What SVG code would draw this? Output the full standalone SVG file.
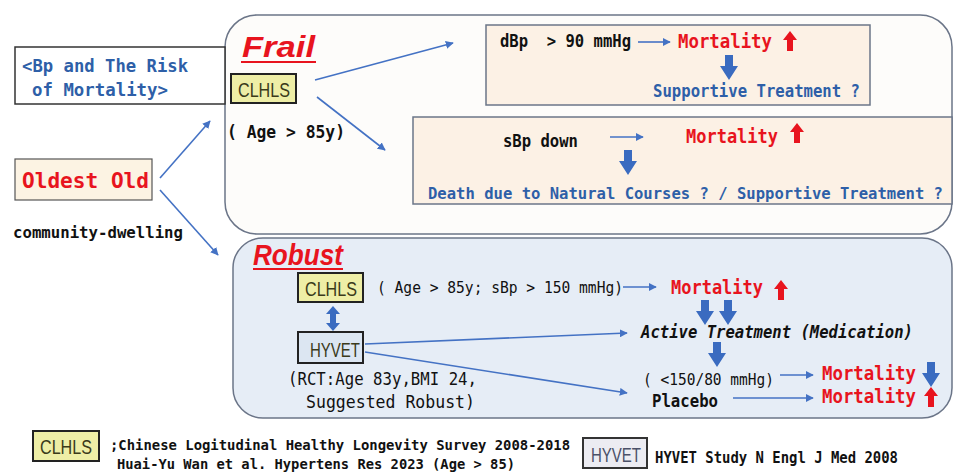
<svg xmlns="http://www.w3.org/2000/svg" xmlns:xlink="http://www.w3.org/1999/xlink" width="954" height="472" viewBox="0 0 954 472">
<style>
text{font-family:"DejaVu Sans Mono","Liberation Mono",monospace;font-weight:bold;font-size:17px;}
.blk{fill:#111;}
.reg{font-weight:normal;}
.blue{fill:#2e5fa8;}
.red{fill:#e8141e;}
.narrow{font-family:"Liberation Sans",Arial,sans-serif;font-weight:normal;font-size:20px;fill:#3a3a1a;}
.title{font-family:"Liberation Sans",Arial,sans-serif;font-style:italic;font-weight:bold;font-size:30px;fill:#e8141e;}
.conn{stroke:#4472c4;stroke-width:1.6;fill:none;marker-end:url(#ah);}
.clhls{fill:#eeeea6;stroke:#222;stroke-width:2;}
.hyvet{fill:#dce6f2;stroke:#222;stroke-width:2;}
.inner{fill:#fcf1e5;stroke:#6b7588;stroke-width:1.5;}
</style>
<defs>
<marker id="ah" viewBox="0 0 10 10" refX="9" refY="5" markerWidth="8" markerHeight="8" markerUnits="userSpaceOnUse" orient="auto">
<path d="M0,0 L10,5 L0,10 z" fill="#4472c4"/>
</marker>
<path id="dn" d="M-4,0 L4,0 L4,11 L9,11 L0,25 L-9,11 L-4,11 z" fill="#3a6bc0"/>
<path id="up" d="M0,0 L7,9 L3,9 L3,20 L-3,20 L-3,9 L-7,9 z" fill="#e8141e"/>
</defs>
<rect width="954" height="472" fill="#fff"/>

<g id="frail-group">
<rect x="225" y="15" width="727" height="219" rx="32" fill="#fdfcfa" stroke="#6b7588" stroke-width="1.5"/>
<text class="title" x="242" y="57" textLength="73" lengthAdjust="spacingAndGlyphs">Frail</text>
<line x1="241" y1="62" x2="316" y2="62" stroke="#e8141e" stroke-width="2"/>
</g>
<g id="robust-group">
<rect x="233" y="238" width="719" height="180" rx="30" fill="#e6edf6" stroke="#6b7588" stroke-width="1.5"/>
<text class="title" x="253" y="265" textLength="90" lengthAdjust="spacingAndGlyphs">Robust</text>
<line x1="253" y1="269" x2="343" y2="269" stroke="#e8141e" stroke-width="2"/>
</g>

<g id="title-box">
<rect x="15" y="47" width="210" height="57" fill="#fff" stroke="#333" stroke-width="1.5"/>
<text class="blue" x="22" y="72" style="font-size:18px" textLength="166" lengthAdjust="spacingAndGlyphs">&lt;Bp and The Risk</text>
<text class="blue" x="32" y="96" style="font-size:18px" textLength="136" lengthAdjust="spacingAndGlyphs">of Mortality&gt;</text>
</g>
<g id="oldest-old">
<rect x="15" y="159" width="137" height="41" fill="#fcf3e3" stroke="#555" stroke-width="1.2"/>
<text class="red" x="22" y="188" style="font-size:22px" textLength="127" lengthAdjust="spacingAndGlyphs">Oldest Old</text>
</g>
<g id="community">
<text class="blk" x="13" y="238" style="font-size:16.5px" textLength="170" lengthAdjust="spacingAndGlyphs">community-dwelling</text>
</g>

<g id="frail-clhls">
<rect class="clhls" x="231" y="74" width="65" height="29"/>
<text class="narrow" x="238" y="97" textLength="52" lengthAdjust="spacingAndGlyphs">CLHLS</text>
<text class="blk" x="227" y="138" textLength="118" lengthAdjust="spacingAndGlyphs">( Age &gt; 85y)</text>
</g>

<g id="dbp-box">
<rect class="inner" x="486" y="25" width="384" height="80"/>
<text class="blk" x="500" y="47" textLength="131" lengthAdjust="spacingAndGlyphs">dBp&#160; &gt; 90 mmHg</text>
<text class="red" x="678" y="48" style="font-size:19px" textLength="94" lengthAdjust="spacingAndGlyphs">Mortality</text>
<use xlink:href="#up" x="790" y="31"/>
<use xlink:href="#dn" x="729" y="55"/>
<text class="blue" x="653" y="97" textLength="207" lengthAdjust="spacingAndGlyphs">Supportive Treatment ?</text>
</g>

<g id="sbp-box">
<rect class="inner" x="413" y="117" width="539" height="87"/>
<text class="blk" x="503" y="147" textLength="75" lengthAdjust="spacingAndGlyphs">sBp down</text>
<text class="red" x="686" y="143" style="font-size:19px" textLength="92" lengthAdjust="spacingAndGlyphs">Mortality</text>
<use xlink:href="#up" x="797" y="123"/>
<use xlink:href="#dn" x="628" y="150"/>
<text class="blue" x="428" y="199" style="font-size:15.8px" textLength="515" lengthAdjust="spacingAndGlyphs">Death due to Natural Courses ? / Supportive Treatment ?</text>
</g>

<g id="robust-clhls">
<rect class="clhls" x="298" y="273" width="65" height="29"/>
<text class="narrow" x="305" y="296" textLength="52" lengthAdjust="spacingAndGlyphs">CLHLS</text>
<text class="blk reg" x="377" y="293" style="font-size:16px" textLength="246" lengthAdjust="spacingAndGlyphs">( Age &gt; 85y; sBp &gt; 150 mmHg)</text>
<text class="red" x="671" y="294" style="font-size:19px" textLength="92" lengthAdjust="spacingAndGlyphs">Mortality</text>
<use xlink:href="#up" x="781" y="280"/>
<use xlink:href="#dn" x="705" y="300"/>
<use xlink:href="#dn" x="728" y="300"/>
</g>

<g id="robust-hyvet">
<path d="M333,306 L340,314 L336,314 L336,323 L340,323 L333,331 L326,323 L330,323 L330,314 L326,314 z" fill="#3a6bc0"/>
<rect class="hyvet" x="298" y="332" width="65" height="31"/>
<text class="narrow" x="310" y="357" textLength="50" lengthAdjust="spacingAndGlyphs">HYVET</text>
<text class="blk reg" x="288" y="385" textLength="189" lengthAdjust="spacingAndGlyphs">(RCT:Age 83y,BMI 24,</text>
<text class="blk reg" x="306" y="408" textLength="169" lengthAdjust="spacingAndGlyphs">Suggested Robust)</text>
</g>

<g id="active">
<text class="blk" x="641" y="338" style="font-style:italic" textLength="272" lengthAdjust="spacingAndGlyphs">Active Treatment (Medication)</text>
<use xlink:href="#dn" x="717" y="342"/>
<text class="blk reg" x="643" y="385" style="font-size:16px" textLength="131" lengthAdjust="spacingAndGlyphs">( &lt;150/80 mmHg)</text>
<text class="red" x="822" y="380" style="font-size:19px" textLength="94" lengthAdjust="spacingAndGlyphs">Mortality</text>
<use xlink:href="#dn" x="931" y="362"/>
</g>
<g id="placebo">
<text class="blk" x="652" y="407" textLength="66" lengthAdjust="spacingAndGlyphs">Placebo</text>
<text class="red" x="822" y="403" style="font-size:19px" textLength="94" lengthAdjust="spacingAndGlyphs">Mortality</text>
<use xlink:href="#up" x="931" y="387"/>
</g>

<g id="connectors">
<line class="conn" x1="160" y1="178" x2="210" y2="121"/>
<line class="conn" x1="160" y1="190" x2="218" y2="255"/>
<line class="conn" x1="315" y1="80" x2="453" y2="43"/>
<line class="conn" x1="317" y1="97" x2="385" y2="150"/>
<line class="conn" x1="638" y1="42" x2="670" y2="42"/>
<line class="conn" x1="610" y1="137" x2="643" y2="137"/>
<line class="conn" x1="623" y1="287" x2="656" y2="287"/>
<line class="conn" x1="365" y1="344" x2="627" y2="333"/>
<line class="conn" x1="365" y1="352" x2="627" y2="393"/>
<line class="conn" x1="780" y1="375" x2="813" y2="375"/>
<line class="conn" x1="733" y1="398" x2="813" y2="398"/>
</g>

<g id="legend">
<rect class="clhls" x="33" y="431" width="66" height="30"/>
<text class="narrow" x="40" y="454" textLength="52" lengthAdjust="spacingAndGlyphs">CLHLS</text>
<text class="blk" x="110" y="450" style="font-size:14.2px" textLength="460" lengthAdjust="spacingAndGlyphs">;Chinese Logitudinal Healthy Longevity Survey 2008-2018</text>
<text class="blk" x="117" y="469" style="font-size:14.2px" textLength="398" lengthAdjust="spacingAndGlyphs">Huai-Yu Wan et al. Hypertens Res 2023 (Age &gt; 85)</text>
<rect x="583" y="438" width="64" height="30" fill="#ececf2" stroke="#333" stroke-width="2"/>
<text class="narrow" x="591" y="462" style="fill:#4a5068" textLength="50" lengthAdjust="spacingAndGlyphs">HYVET</text>
<text class="blk" x="655" y="463" style="font-size:15.5px" textLength="243" lengthAdjust="spacingAndGlyphs">HYVET Study N Engl J Med 2008</text>
</g>
</svg>
